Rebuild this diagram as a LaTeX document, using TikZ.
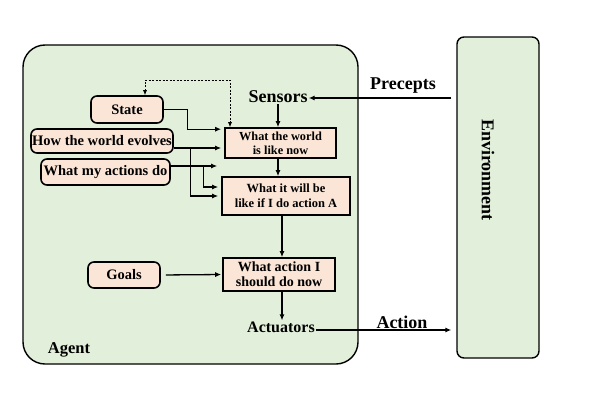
\documentclass[tikz,border=0pt]{standalone}
\usepackage{fontspec}
\setmainfont{Liberation Serif}
\usetikzlibrary{arrows.meta}
\definecolor{agentgreen}{HTML}{E2EFDA}
\definecolor{peach}{HTML}{FBE5D6}
\tikzset{
  lbl/.style={font=\bfseries\fontsize{18}{20}\selectfont, inner sep=1pt},
  roundbox/.style={draw=black, line width=1.6pt, fill=peach, rounded corners=6pt, inner sep=0pt, align=center, font=\bfseries\fontsize{14.5}{16}\selectfont},
  sqbox/.style={draw=black, line width=1.6pt, fill=peach, inner sep=0pt, align=center},
  arr/.style={line width=1.3pt, -{Latex[length=6pt,width=5pt]}, shorten >=3pt},
  dasharr/.style={line width=0.7pt, dash pattern=on 2pt off 1.5pt, {Latex[length=5pt,width=4pt]}-{Latex[length=5pt,width=4pt]}},
}
\begin{document}
\begin{tikzpicture}[x=1pt,y=-1pt]
\useasboundingbox (0,0) rectangle (609,401);
% Agent and environment
\draw[line width=1.4pt, fill=agentgreen, rounded corners=22pt] (23,45) rectangle (358,364);
\node[draw=black, line width=1.4pt, fill=agentgreen, rounded corners=7pt, minimum width=82pt, minimum height=321pt, inner sep=0pt] (env) at (498,197.5) {};
\node[lbl, rotate=-90] (envtext) at (488,170) {Environment};
\node[font=\bfseries\fontsize{16.5}{18}\selectfont, inner sep=0pt] (agent) at (69,350) {Agent};

% text labels
\node[lbl] (sensors) at (278,97) {Sensors};
\node[font=\bfseries\fontsize{16}{18}\selectfont, inner sep=1pt] (actuators) at (281,327) {Actuators};
\node[lbl] (precepts) at (403,86) {Precepts};
\node[lbl] (action) at (402,322) {Action};

% left rounded boxes
\node[roundbox, minimum width=72pt, minimum height=27pt] (state) at (127,109.5) {State};
\node[roundbox, minimum width=142pt, minimum height=24pt] (evolves) at (102,141) {How the world evolves};
\node[roundbox, minimum width=129pt, minimum height=26pt] (actions) at (105.5,172) {What my actions do};
\node[roundbox, minimum width=72pt, minimum height=26pt] (goals) at (124,275) {Goals};

% square boxes
\node[sqbox, minimum width=111pt, minimum height=30pt, font=\bfseries\fontsize{12.3}{14}\selectfont] (world) at (280.5,143) {What the world\\is like now};
\node[sqbox, minimum width=128pt, minimum height=38pt, font=\bfseries\fontsize{12.5}{15}\selectfont] (future) at (286,196) {What it will be\\like if I do action A};
\node[sqbox, minimum width=112pt, minimum height=33pt, font=\bfseries\fontsize{14}{15}\selectfont] (decide) at (279,274.5) {What action I\\should do now};

% connectors
\draw[arr, shorten >=0pt] ([xshift=-5pt]env.west |- 0,98) -- (sensors.east |- 0,98);
\draw[arr, shorten >=5pt] ([yshift=-3pt]actuators.east) -- ([yshift=-3pt]actuators.east -| env.west);
\draw[arr, shorten >=0pt] (sensors.south) -- (sensors.south |- world.north);
\draw[arr, shorten >=0pt] ([xshift=-2.5pt]world.south) -- ([xshift=-2.5pt]world.south |- future.north);
\draw[arr, shorten >=0pt] ([xshift=-4pt]future.south) -- ([xshift=-4pt]future.south |- decide.north);
\draw[arr, shorten >=0pt] ([xshift=3pt]decide.south) -- ([xshift=3pt]decide.south |- actuators.north);
\draw[arr, shorten <=5pt, shorten >=1pt] (goals.east) -- (decide.west);

\draw[arr] (state.east) -- ++(24pt,0pt) |- ([yshift=-2pt]world.north west);
\draw[arr] ([yshift=-7pt]evolves.east) -- ([yshift=-7pt]evolves.east -| world.west);
\draw[arr] ([xshift=17pt,yshift=-7pt]evolves.east) |- (future.west);
\draw[arr, shorten >=7pt] ([yshift=6pt]actions.east) -- ([yshift=6pt]actions.east -| world.west);
\draw[arr] ([xshift=33pt,yshift=6pt]actions.east) |- ([yshift=9pt]future.west);

\draw[dasharr] ([xshift=18pt]state.north) |- ([xshift=-50.5pt,yshift=47pt]world.north) -- ([xshift=-50.5pt]world.north);
\end{tikzpicture}
\end{document}
